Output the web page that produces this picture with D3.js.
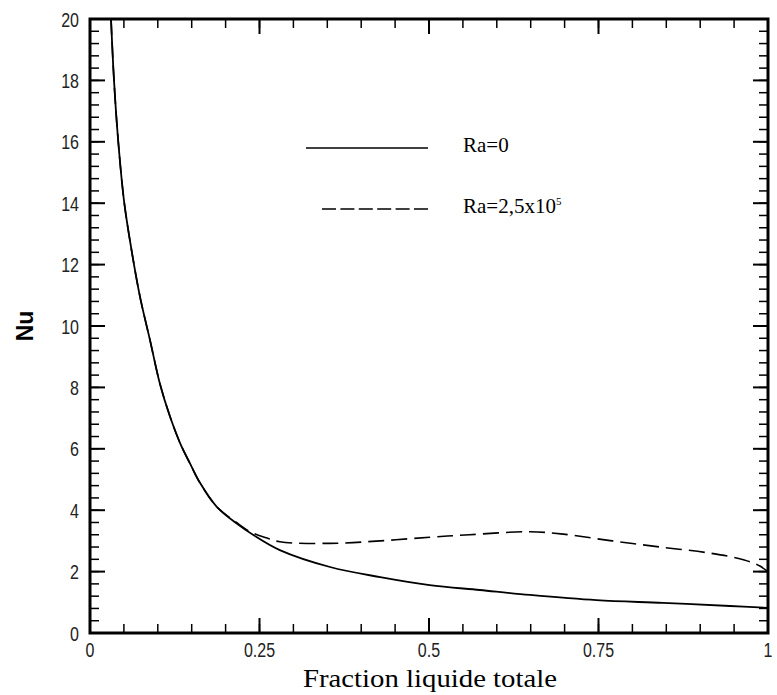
<!DOCTYPE html>
<html><head><meta charset="utf-8">
<script src="https://cdn.jsdelivr.net/npm/d3@7"></script>
<style>body{margin:0;background:#fff}svg{display:block}</style>
</head><body>
<script>
const xTicks = [0, 0.25, 0.5, 0.75, 1];
const xTickLabels = ["0", "0.25", "0.5", "0.75", "1"];
const yTicks = [0, 2, 4, 6, 8, 10, 12, 14, 16, 18, 20];
const seriesNames = ["Ra=0", "Ra=2,5x10"];
const ra0X = [0.031,0.0354,0.0417,0.0506,0.0649,0.0747,0.0885,0.103,0.118,0.133,0.148,0.162,0.187,0.216,0.241,0.28,0.354,0.428,0.501,0.575,0.649,0.747,0.845,0.944,1.0];
const ra0Y = [20,18,16,14,12,10.85,9.54,8.13,7.05,6.18,5.5,4.9,4.11,3.57,3.19,2.70,2.15,1.82,1.56,1.40,1.24,1.07,0.98,0.88,0.82];
const ra25X = [0.031,0.0354,0.0417,0.0506,0.0649,0.0747,0.0885,0.103,0.118,0.133,0.148,0.162,0.187,0.216,0.236,0.26,0.28,0.354,0.428,0.501,0.56,0.649,0.698,0.77,0.841,0.915,0.965,0.988,1.0];
const ra25Y = [20,18,16,14,12,10.85,9.54,8.13,7.05,6.18,5.5,4.9,4.11,3.6,3.3,3.1,2.97,2.92,3.0,3.12,3.2,3.3,3.22,3.0,2.8,2.6,2.38,2.18,1.99];

const W = 777, H = 695;
const m = {left: 90, right: 9, top: 19, bottom: 62};
const svg = d3.select("body").append("svg").attr("width", W).attr("height", H);
const x = d3.scaleLinear().domain([0, 1]).range([m.left, W - m.right]);
const y = d3.scaleLinear().domain([0, 20]).range([H - m.bottom, m.top]);

const sans = "'Liberation Sans',Arial,sans-serif";
const serif = "'Liberation Serif','Times New Roman',serif";

const xMinor = d3.range(0, 1.0001, 0.05);
const yMinor = d3.range(0, 20.0001, 0.4);
const g = svg.append("g");
function ticks(data, isX, len, sw, side) {
  g.append("g").selectAll("line").data(data).join("line")
    .attr("x1", d => isX ? x(d) : (side ? x(1) : x(0)))
    .attr("x2", d => isX ? x(d) : (side ? x(1) - len : x(0) + len))
    .attr("y1", d => isX ? (side ? y(20) : y(0)) : y(d))
    .attr("y2", d => isX ? (side ? y(20) + len : y(0) - len) : y(d))
    .attr("stroke", "#000").attr("stroke-width", sw);
}
ticks(xMinor, true, 9, 1.5, false);
ticks(xMinor, true, 9, 1.5, true);
ticks(yMinor, false, 9, 1.5, false);
ticks(yMinor, false, 9, 1.5, true);
ticks(xTicks, true, 15, 2, false);
ticks(xTicks, true, 15, 2, true);
ticks(yTicks, false, 15, 2, false);
ticks(yTicks, false, 15, 2, true);

// tick labels (narrow)
g.append("g").selectAll("text").data(xTicks).join("text")
  .attr("transform", d => `translate(${x(d)},${y(0) + 24}) scale(0.8,1)`)
  .attr("text-anchor", "middle").attr("font-family", sans).attr("font-size", 20)
  .attr("fill", "#222").text((d, i) => xTickLabels[i]);
g.append("g").selectAll("text").data(yTicks).join("text")
  .attr("transform", d => `translate(${x(0) - 11},${y(d) + 7.5}) scale(0.8,1)`)
  .attr("text-anchor", "end").attr("font-family", sans).attr("font-size", 20)
  .attr("fill", "#222").text(d => d);

// curves
const line = d3.line().x(d => x(d[0])).y(d => y(d[1])).curve(d3.curveCatmullRom.alpha(0.5));
const s0 = ra0X.map((v, i) => [v, ra0Y[i]]);
const s1 = ra25X.map((v, i) => [v, ra25Y[i]]);
svg.append("path").datum(s1).attr("d", line).attr("fill", "none")
  .attr("stroke", "#000").attr("stroke-width", 1.6).attr("stroke-dasharray", "16,7");
svg.append("path").datum(s0).attr("d", line).attr("fill", "none")
  .attr("stroke", "#000").attr("stroke-width", 1.8);

// frame
svg.append("rect").attr("x", x(0)).attr("y", y(20))
  .attr("width", x(1) - x(0)).attr("height", y(0) - y(20))
  .attr("fill", "none").attr("stroke", "#000").attr("stroke-width", 3);

// axis titles
svg.append("text").attr("x", 430).attr("y", 687)
  .attr("text-anchor", "middle").attr("font-family", serif).attr("font-size", 25)
  .attr("textLength", 254).attr("lengthAdjust", "spacingAndGlyphs")
  .text("Fraction liquide totale");
svg.append("text").attr("transform", `translate(33,${(y(0) + y(20)) / 2}) rotate(-90)`)
  .attr("text-anchor", "middle").attr("font-family", sans)
  .attr("font-weight", "bold").attr("font-size", 23).text("Nu");

// legend
const leg = svg.append("g");
leg.append("line").attr("x1", 306).attr("x2", 428).attr("y1", 148).attr("y2", 148)
  .attr("stroke", "#000").attr("stroke-width", 1.5);
leg.append("text").attr("x", 463).attr("y", 152).attr("font-family", serif).attr("font-size", 21)
  .text(seriesNames[0]);
leg.append("line").attr("x1", 322).attr("x2", 428).attr("y1", 209).attr("y2", 209)
  .attr("stroke", "#000").attr("stroke-width", 1.5).attr("stroke-dasharray", "14,4.4");
const t2 = leg.append("text").attr("x", 463).attr("y", 213).attr("font-family", serif).attr("font-size", 21)
  .text(seriesNames[1]);
t2.append("tspan").attr("dy", -8).attr("font-size", 11).text("5");
</script>
</body></html>
